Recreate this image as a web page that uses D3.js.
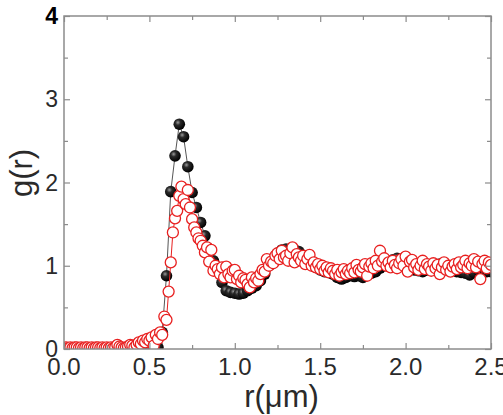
<!DOCTYPE html>
<html lang="en">
<head>
<meta charset="UTF-8">
<title>g(r)</title>
<script src="https://cdn.jsdelivr.net/npm/d3@7"></script>
<style>
  body { margin: 0; background: #fff; }
  svg { display: block; }
  text { font-family: "Liberation Sans", Arial, Helvetica, sans-serif; }
</style>
</head>
<body>
<svg id="chart" width="503" height="415"></svg>
<script>
// black spheres: r step 0.025 from 0 to 2.5
var blackG = [
  0,0,0,0,0,0,0,0,0,0,0,0,0,0,0,0,0,0,0,0,0,0,
  0.02,0.20,0.88,1.89,2.32,2.70,2.55,2.19,1.88,1.70,
  1.52,1.36,1.20,1.06,0.94,0.80,0.70,0.68,0.67,0.66,
  0.67,0.70,0.73,0.76,0.82,0.90,1.00,1.08,1.15,1.19,
  1.20,1.20,1.19,1.17,1.12,1.07,1.02,0.98,0.95,0.93,
  0.92,0.90,0.86,0.84,0.86,0.88,0.87,0.88,0.86,0.90,
  0.91,0.93,0.97,1.00,1.04,1.07,1.09,1.06,1.02,0.98,
  0.95,0.94,0.93,0.95,0.97,1.00,1.02,1.00,0.97,0.95,
  0.93,0.92,0.91,0.89,0.92,0.95,0.97,0.93,0.93
];
var blackStep = 0.025;

// red open circles: r step 0.0125 from 0 to 2.5
var redG = [
  0.01,0.02,0.01,0.02,0.01,0.02,0.02,0.01,0.02,0.01,
  0.02,0.02,0.01,0.02,0.01,0.02,0.02,0.01,0.02,0.01,
  0.02,0.01,0.02,0.01,0.02,0.05,0.03,0.02,0.01,0.02,
  0.03,0.05,0.04,0.02,0.05,0.08,0.06,0.10,0.08,0.12,
  0.10,0.14,0.04,0.17,0.12,0.20,0.17,0.39,0.35,0.69,
  1.04,1.40,1.57,1.66,1.84,1.95,1.80,1.74,1.91,1.70,
  1.56,1.46,1.40,1.33,1.30,1.24,1.16,1.22,1.05,1.19,
  0.94,1.00,0.96,0.90,0.98,0.86,0.99,0.90,0.86,0.94,
  0.95,0.84,0.88,0.80,0.85,0.83,0.78,0.74,0.86,0.80,
  0.85,0.82,0.90,0.95,0.93,1.08,1.00,1.05,1.03,1.12,
  1.15,1.08,1.18,1.10,1.12,1.06,1.15,1.22,1.04,1.14,
  1.10,1.06,1.12,1.02,1.08,1.13,1.00,1.04,0.98,1.02,
  0.96,1.00,0.94,0.98,0.92,0.97,0.94,0.90,0.95,0.88,
  0.92,0.96,0.90,0.94,0.91,0.97,0.92,1.01,0.95,0.93,
  0.98,1.02,0.88,0.99,1.03,0.97,1.06,1.00,1.18,1.05,
  1.09,1.00,1.04,0.98,1.06,1.01,0.97,1.03,1.08,1.00,
  1.11,0.93,1.05,1.07,0.98,1.02,0.95,1.00,1.06,0.96,
  1.02,0.99,0.94,1.03,0.97,1.01,0.90,0.98,1.04,0.95,
  1.00,0.93,0.99,1.02,0.96,1.04,0.98,1.01,1.06,0.97,
  1.03,1.00,1.08,0.98,1.05,0.84,1.02,1.06,0.97,1.04,
  1.01
];
var redStep = 0.0125;

var xTicks = [0, 0.5, 1.0, 1.5, 2.0, 2.5];
var xMinor = [0.25, 0.75, 1.25, 1.75, 2.25];
var yTicks = [0, 1, 2, 3, 4];
var yMinor = [0.5, 1.5, 2.5, 3.5];

var blackData = blackG.map(function (g, i) { return { r: i * blackStep, g: g }; });
var redData = redG.map(function (g, i) { return { r: i * redStep, g: g }; });

var margin = { top: 16, right: 12, bottom: 66, left: 64 };
var width = 503 - margin.left - margin.right;
var height = 415 - margin.top - margin.bottom;

var svg = d3.select('#chart');
var defs = svg.append('defs');

// shaded sphere look for the black markers
var grad = defs.append('radialGradient')
  .attr('id', 'ball')
  .attr('cx', '38%').attr('cy', '35%').attr('r', '65%');
grad.append('stop').attr('offset', '0%').attr('stop-color', '#9a9a9a');
grad.append('stop').attr('offset', '35%').attr('stop-color', '#2a2a2a');
grad.append('stop').attr('offset', '100%').attr('stop-color', '#000');

defs.append('clipPath').attr('id', 'plotclip')
  .append('rect').attr('width', width).attr('height', height);

var g = svg.append('g').attr('transform', 'translate(' + margin.left + ',' + margin.top + ')');

var x = d3.scaleLinear().domain([0, 2.5]).range([0, width]);
var y = d3.scaleLinear().domain([0, 4]).range([height, 0]);

var line = d3.line()
  .x(function (d) { return x(d.r); })
  .y(function (d) { return y(d.g); });

var plot = g.append('g').attr('clip-path', 'url(#plotclip)');

// black series
plot.append('path')
  .datum(blackData)
  .attr('fill', 'none')
  .attr('stroke', '#555')
  .attr('stroke-width', 1)
  .attr('d', line);

plot.selectAll('circle.black')
  .data(blackData)
  .enter()
  .append('circle')
  .attr('class', 'black')
  .attr('cx', function (d) { return x(d.r); })
  .attr('cy', function (d) { return y(d.g); })
  .attr('r', 5.8)
  .attr('fill', 'url(#ball)');

// red series
plot.append('path')
  .datum(redData)
  .attr('fill', 'none')
  .attr('stroke', '#e82020')
  .attr('stroke-width', 1)
  .attr('d', line);

plot.selectAll('circle.red')
  .data(redData)
  .enter()
  .append('circle')
  .attr('class', 'red')
  .attr('cx', function (d) { return x(d.r); })
  .attr('cy', function (d) { return y(d.g); })
  .attr('r', 5.5)
  .attr('fill', '#fff')
  .attr('stroke', '#e82020')
  .attr('stroke-width', 1.3);

// frame
g.append('rect')
  .attr('width', width)
  .attr('height', height)
  .attr('fill', 'none')
  .attr('stroke', '#8c8c8c')
  .attr('stroke-width', 1.5);

// inner ticks on all four sides
function tickAxis(axisFn, scale, values, size, tx) {
  var a = g.append('g')
    .attr('transform', tx)
    .call(axisFn(scale).tickValues(values).tickSize(size).tickFormat(''));
  a.select('.domain').remove();
  a.selectAll('.tick line').attr('stroke', '#8c8c8c').attr('stroke-width', 1.2);
  return a;
}
var tl = 6, tm = 4;
tickAxis(d3.axisTop, x, xTicks, tl, 'translate(0,' + height + ')');
tickAxis(d3.axisTop, x, xMinor, tm, 'translate(0,' + height + ')');
tickAxis(d3.axisBottom, x, xTicks, tl, 'translate(0,0)');
tickAxis(d3.axisBottom, x, xMinor, tm, 'translate(0,0)');
tickAxis(d3.axisRight, y, yTicks, tl, 'translate(0,0)');
tickAxis(d3.axisRight, y, yMinor, tm, 'translate(0,0)');
tickAxis(d3.axisLeft, y, yTicks, tl, 'translate(' + width + ',0)');
tickAxis(d3.axisLeft, y, yMinor, tm, 'translate(' + width + ',0)');

// tick labels
g.selectAll('text.xl')
  .data(xTicks)
  .enter()
  .append('text')
  .attr('class', 'xl')
  .attr('x', function (d) { return x(d); })
  .attr('y', height + 26)
  .attr('text-anchor', 'middle')
  .attr('font-size', 24)
  .attr('fill', '#2a2a2a')
  .text(function (d) { return d3.format('.1f')(d); });

g.selectAll('text.yl')
  .data(yTicks)
  .enter()
  .append('text')
  .attr('class', 'yl')
  .attr('x', -6)
  .attr('y', function (d) { return y(d) + 8; })
  .attr('text-anchor', 'end')
  .attr('font-size', 23)
  .attr('font-weight', function (d) { return d === 4 ? 'bold' : 'normal'; })
  .attr('fill', function (d) { return d === 4 ? '#000' : '#2a2a2a'; })
  .text(function (d) { return d; });

// axis titles
g.append('text')
  .attr('x', width / 2 + 4)
  .attr('y', height + 58)
  .attr('text-anchor', 'middle')
  .attr('font-size', 31)
  .attr('fill', '#2a2a2a')
  .text('r(\u03bcm)');

svg.append('text')
  .attr('transform', 'translate(32,173) rotate(-90)')
  .attr('text-anchor', 'middle')
  .attr('font-size', 31)
  .attr('fill', '#2a2a2a')
  .text('g(r)');
</script>
</body>
</html>
